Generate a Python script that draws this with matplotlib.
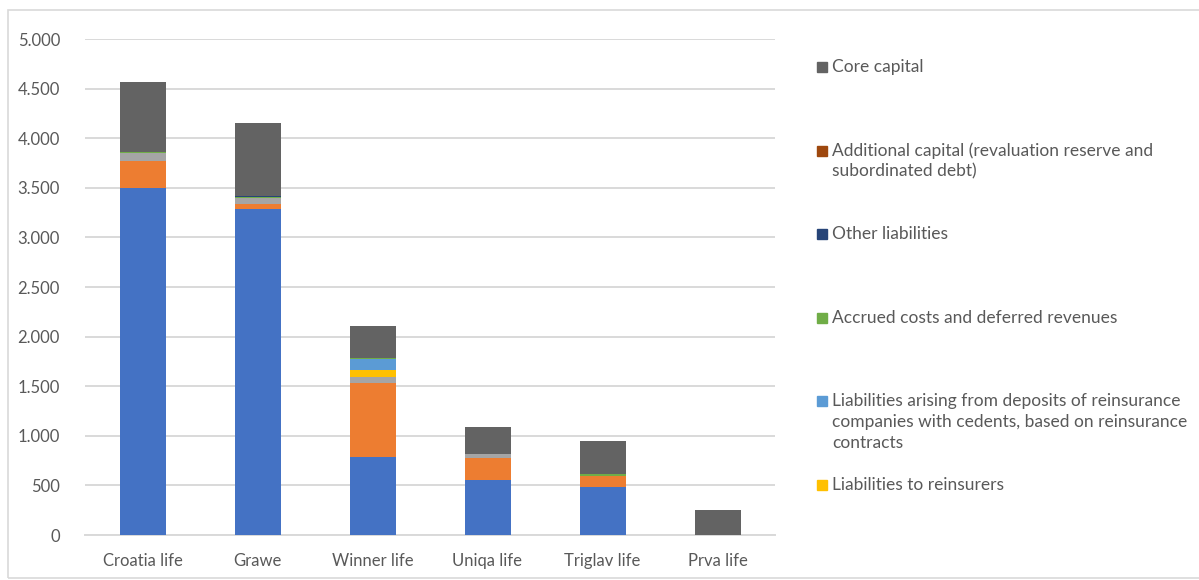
import matplotlib.pyplot as plt
from matplotlib.patches import Rectangle
from matplotlib.ticker import FuncFormatter
import numpy as np

plt.rcParams['font.family'] = ['Lato', 'DejaVu Sans']

# data, stacked bottom -> top
companies = ["Croatia life", "Grawe", "Winner life", "Uniqa life", "Triglav life", "Prva life"]

seg_blue = [3500, 3283, 789, 558, 487, 0]
seg_orange = [270, 50, 746, 221, 105, 0]
seg_gray = [78, 61, 58, 34, 6, 0]
reinsurers = [0, 8, 74, 0, 0, 0]
deposits = [0, 0, 107, 0, 0, 0]
accrued = [10, 8, 10, 4, 20, 0]
other_liab = [0, 4, 0, 0, 0, 0]
additional_cap = [0, 6, 0, 0, 0, 0]
core_capital = [705, 730, 320, 273, 327, 255]

series = [
    (seg_blue, "#4472C4", None),
    (seg_orange, "#ED7D31", None),
    (seg_gray, "#A5A5A5", None),
    (reinsurers, "#FFC000", "Liabilities to reinsurers"),
    (deposits, "#5B9BD5", "Liabilities arising from deposits of reinsurance\ncompanies with cedents, based on reinsurance\ncontracts"),
    (accrued, "#70AD47", "Accrued costs and deferred revenues"),
    (other_liab, "#264478", "Other liabilities"),
    (additional_cap, "#9E480E", "Additional capital (revaluation reserve and\nsubordinated debt)"),
    (core_capital, "#636363", "Core capital"),
]

text_col = "#595959"
grid_col = "#D9D9D9"

fig = plt.figure(figsize=(11.99, 5.80), dpi=100)
ax = fig.add_axes([85 / 1199, 45 / 580, 690 / 1199, 496 / 580])

x = np.arange(len(companies))
bottom = np.zeros(len(companies))
for vals, col, name in series:
    ax.bar(x, vals, width=0.4, bottom=bottom, color=col, linewidth=0, zorder=3)
    bottom += np.array(vals)

ax.set_xlim(-0.5, len(companies) - 0.5)
ax.set_ylim(0, 5000)
ax.set_yticks(range(0, 5001, 500))
ax.yaxis.set_major_formatter(FuncFormatter(lambda v, p: f"{int(v):,}".replace(",", ".")))
ax.set_xticks(x)
ax.set_xticklabels(companies)
ax.tick_params(axis="both", length=0, colors=text_col, labelsize=12)
ax.tick_params(axis="x", pad=13)
ax.tick_params(axis="y", pad=18)
ax.grid(axis="y", color=grid_col, linewidth=1.4, zorder=0)
for s in ["top", "right", "left"]:
    ax.spines[s].set_visible(False)
ax.spines["bottom"].set_color(grid_col)
ax.spines["bottom"].set_linewidth(1.4)

# legend drawn by hand (reverse order, only the named series)
legend_items = [(name, col) for vals, col, name in series if name][::-1]
y0 = 67
step = 83.6
for i, (name, col) in enumerate(legend_items):
    yp = y0 + i * step
    fig.patches.append(Rectangle((817 / 1199, 1 - (yp + 5) / 580), 10 / 1199, 10 / 580,
                                 transform=fig.transFigure, color=col, figure=fig))
    fig.text(832 / 1199, 1 - (yp - 8) / 580, name, ha="left", va="top",
             color=text_col, fontsize=12.5, linespacing=1.35)

# chart border
fig.patches.append(Rectangle((8 / 1199, 2 / 580), 1195 / 1199, 568 / 580,
                             transform=fig.transFigure, fill=False,
                             edgecolor=grid_col, linewidth=1.2, figure=fig))

fig.savefig("out.png", dpi=100)
